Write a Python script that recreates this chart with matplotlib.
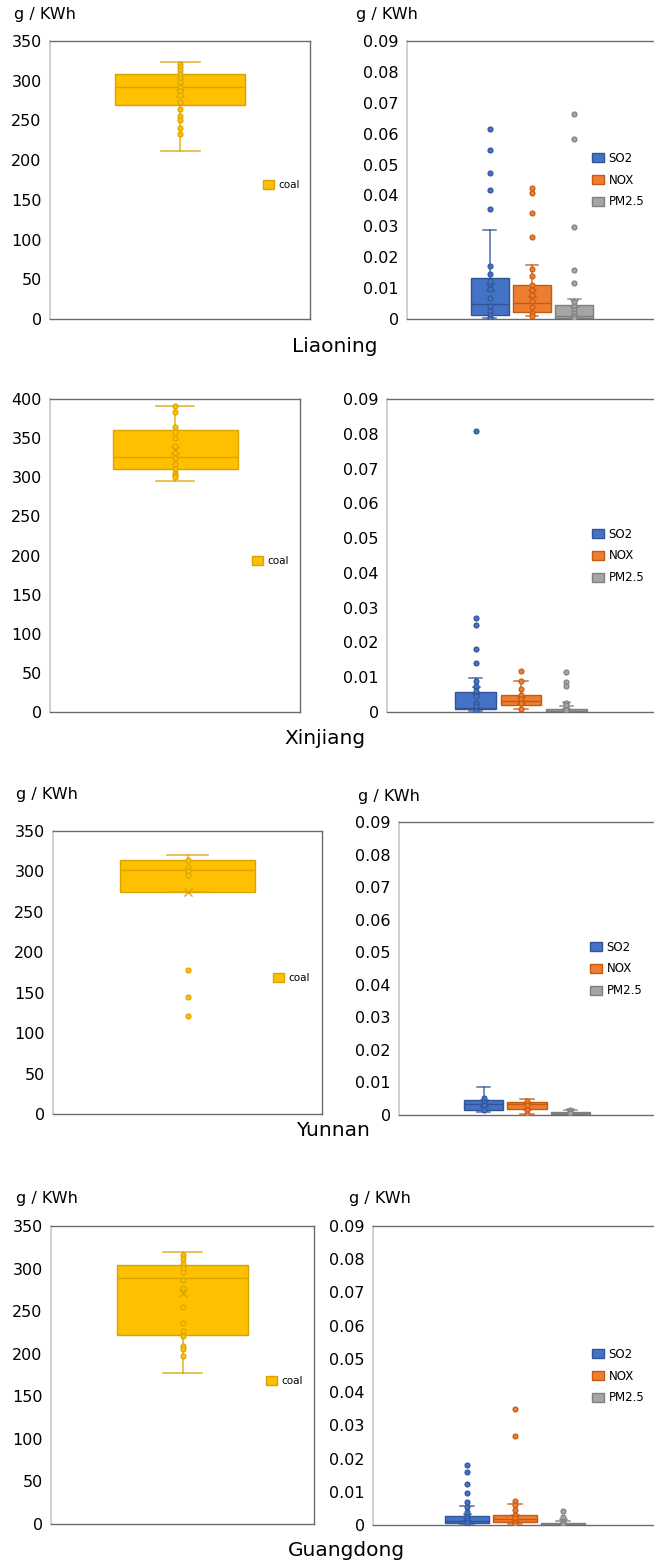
import numpy as np
import matplotlib.pyplot as plt
from matplotlib.patches import Patch

# Datos (g / KWh)
provincias = ['Liaoning', 'Xinjiang', 'Yunnan', 'Guangdong']
contaminantes = ['SO2', 'NOX', 'PM2.5']

# caja: [bigote inferior, Q1, mediana, Q3, bigote superior]
coal_box = {'Liaoning': [212, 269.5, 292, 309, 324],
            'Xinjiang': [295.5, 310, 326, 360, 391],
            'Yunnan': [275, 275, 301.5, 314, 320],
            'Guangdong': [177, 222, 289.5, 304, 319.5]}
coal_mean = {'Liaoning': 284, 'Xinjiang': 335, 'Yunnan': 274, 'Guangdong': 271}
coal_pts = {'Liaoning': [321, 317, 313, 309, 304, 299, 292, 287, 282, 273, 265, 256, 251, 240.5, 232.6],
            'Xinjiang': [391, 383, 364.6, 358, 350, 340, 330.5, 325, 317, 311, 306, 303, 300],
            'Yunnan': [313.8, 305.5, 300.5, 295, 177.5, 144.6, 121.4],
            'Guangdong': [316.4, 311.7, 305.9, 300.8, 296.5, 286, 277, 254.3, 236, 226.6, 221,
                          209.4, 205.5, 197.7]}
coal_ylim = {'Liaoning': 350, 'Xinjiang': 400, 'Yunnan': 350, 'Guangdong': 350}

so2_box = {'Liaoning': [0.0003, 0.0014, 0.0050, 0.0134, 0.0288],
           'Xinjiang': [0.0002, 0.0008, 0.0012, 0.0057, 0.0099],
           'Yunnan': [0.0010, 0.0015, 0.0034, 0.0046, 0.0087],
           'Guangdong': [0.0002, 0.0005, 0.0013, 0.0027, 0.0057]}
so2_mean = {'Liaoning': 0.0105, 'Xinjiang': 0.0063, 'Yunnan': 0.0036, 'Guangdong': 0.0025}
so2_pts = {'Liaoning': [0.0614, 0.0548, 0.0472, 0.0417, 0.0356, 0.0171, 0.0145, 0.0122,
                        0.0097, 0.0068, 0.0043, 0.0025, 0.0014, 0.0003],
           'Xinjiang': [0.0808, 0.0270, 0.0251, 0.0182, 0.0142, 0.0088, 0.0074, 0.0060,
                        0.0047, 0.0026, 0.0016, 0.0002],
           'Yunnan': [0.0053, 0.0040, 0.0030, 0.0015],
           'Guangdong': [0.0180, 0.0161, 0.0124, 0.0097, 0.0070, 0.0055, 0.0040, 0.0025,
                         0.0015, 0.0005]}

nox_box = {'Liaoning': [0.0011, 0.0022, 0.0052, 0.0109, 0.0174],
           'Xinjiang': [0.0010, 0.0019, 0.0033, 0.0048, 0.0088],
           'Yunnan': [0.0002, 0.0018, 0.0033, 0.0040, 0.0049],
           'Guangdong': [0.0003, 0.0008, 0.0017, 0.0030, 0.0062]}
nox_mean = {'Liaoning': 0.0084, 'Xinjiang': 0.0035, 'Yunnan': 0.0028, 'Guangdong': 0.0020}
nox_pts = {'Liaoning': [0.0423, 0.0407, 0.0342, 0.0265, 0.0162, 0.0139, 0.0109, 0.0095,
                        0.0077, 0.0058, 0.0039, 0.0020, 0.0011],
           'Xinjiang': [0.0117, 0.0088, 0.0067, 0.0050, 0.0036, 0.0026, 0.0010],
           'Yunnan': [0.0043, 0.0031, 0.0016, 0.0002],
           'Guangdong': [0.0349, 0.0268, 0.0072, 0.0060, 0.0045, 0.0030, 0.0020, 0.0010, 0.0003]}

pm25_box = {'Liaoning': [0.0001, 0.0003, 0.0009, 0.0044, 0.0066],
            'Xinjiang': [0.0000, 0.0002, 0.0004, 0.0010, 0.0018],
            'Yunnan': [0.0001, 0.0002, 0.0006, 0.0008, 0.0015],
            'Guangdong': [0.0001, 0.0002, 0.0004, 0.0007, 0.0013]}
pm25_mean = {'Liaoning': 0.0052, 'Xinjiang': 0.0020, 'Yunnan': 0.0010, 'Guangdong': 0.0010}
pm25_pts = {'Liaoning': [0.0664, 0.0582, 0.0297, 0.0158, 0.0116, 0.0056, 0.0042, 0.0030,
                         0.0019, 0.0009, 0.0003],
            'Xinjiang': [0.0114, 0.0085, 0.0074, 0.0026, 0.0020, 0.0005],
            'Yunnan': [0.0015, 0.0010, 0.0005],
            'Guangdong': [0.0043, 0.0025, 0.0010, 0.0004]}

# Colores estilo Excel: (relleno, borde)
col_coal = ('#FFC000', '#D9A300')
col_pol = {'SO2': ('#4472C4', '#2F5597'),
           'NOX': ('#ED7D31', '#C55A11'),
           'PM2.5': ('#A5A5A5', '#7F7F7F')}

W, H = 654, 1567
fig = plt.figure(figsize=(W / 100, H / 100), dpi=100)

# posiciones en píxeles: (izq, arriba, der, abajo)
ejes_coal = [(50, 41, 310, 319), (50, 399, 300, 712), (53, 831, 322, 1114), (51, 1226, 314, 1524)]
ejes_pol = [(407, 41, 657, 319), (387, 399, 655, 712), (399, 822, 655, 1115), (373, 1226, 657, 1525)]
leyenda_coal = [(263, 185), (252, 561), (273, 978), (266, 1381)]
leyenda_pol = [(592, 180), (592, 556), (590, 969), (592, 1376)]
titulos = [(335, 347), (325, 739), (333, 1130), (346, 1551)]
etiquetas_unidad = [((14, 15), (356, 15)), None, ((16, 795), (358, 796)), ((16, 1199), (349, 1199))]


def ejes_px(l, t, r, b):
    return fig.add_axes([l / W, 1 - b / H, (r - l) / W, (b - t) / H])


def estilo(ax):
    for s in ['top', 'right', 'bottom']:
        ax.spines[s].set_color('#6b6b6b')
        ax.spines[s].set_linewidth(1.0)
    ax.spines['left'].set_color('#c8c8c8')
    ax.spines['left'].set_linewidth(1.2)
    ax.tick_params(axis='y', length=0, pad=6, labelsize=11.5)
    ax.set_xticks([])


def caja(ax, pos, box, mean, pts, colores, ancho, zorder=2):
    fill, edge = colores
    stats = [dict(whislo=box[0], q1=box[1], med=box[2], q3=box[3], whishi=box[4],
                  mean=mean, fliers=[])]
    ax.bxp(stats, positions=[pos], widths=ancho, capwidths=0.3, showmeans=True,
           patch_artist=True, manage_ticks=False,
           boxprops=dict(facecolor=fill, edgecolor=edge, linewidth=1.0),
           medianprops=dict(color=edge, linewidth=1.0),
           whiskerprops=dict(color=edge, linewidth=1.1, alpha=0.85),
           capprops=dict(color=edge, linewidth=1.1, alpha=0.85),
           meanprops=dict(marker='x', markeredgecolor=edge, markersize=6, markeredgewidth=1.0))
    ax.plot(np.full(len(pts), pos), pts, 'o', markersize=3.6, markerfacecolor=fill,
            markeredgecolor=edge, markeredgewidth=0.8, zorder=zorder + 2)


for i, prov in enumerate(provincias):
    # carbón
    ax = ejes_px(*ejes_coal[i])
    caja(ax, 1, coal_box[prov], coal_mean[prov], coal_pts[prov], col_coal, 1.0)
    ax.set_xlim(0, 2)
    ax.set_ylim(0, coal_ylim[prov])
    ax.set_yticks(np.arange(0, coal_ylim[prov] + 1, 50))
    estilo(ax)
    lx, ly = leyenda_coal[i]
    ax.legend(handles=[Patch(facecolor=col_coal[0], edgecolor=col_coal[1], label='coal')],
              loc='center left', bbox_to_anchor=(lx / W, 1 - ly / H),
              bbox_transform=fig.transFigure, frameon=False, fontsize=7.5,
              handlelength=1.1, handleheight=0.9, handletextpad=0.4, borderpad=0,
              borderaxespad=0)

    # contaminantes
    ax2 = ejes_px(*ejes_pol[i])
    series = [(so2_box, so2_mean, so2_pts), (nox_box, nox_mean, nox_pts),
              (pm25_box, pm25_mean, pm25_pts)]
    for j, (b, m, p) in enumerate(series):
        caja(ax2, j + 1, b[prov], m[prov], p[prov], col_pol[contaminantes[j]], 0.9)
    ax2.set_xlim(-0.95, 4.95)
    ax2.set_ylim(0, 0.09)
    ax2.set_yticks(np.arange(0, 0.091, 0.01))
    ax2.set_yticklabels(['0'] + [f'{v:.2f}' for v in np.arange(0.01, 0.091, 0.01)])
    estilo(ax2)
    lx, ly = leyenda_pol[i]
    ax2.legend(handles=[Patch(facecolor=col_pol[c][0], edgecolor=col_pol[c][1], label=c)
                        for c in contaminantes],
               loc='center left', bbox_to_anchor=(lx / W, 1 - ly / H),
               bbox_transform=fig.transFigure, frameon=False, fontsize=8.5,
               handlelength=1.0, handleheight=0.8, handletextpad=0.4, labelspacing=0.75,
               borderpad=0, borderaxespad=0)

    tx, ty = titulos[i]
    fig.text(tx / W, 1 - ty / H, prov, ha='center', va='center', fontsize=14.5)
    if etiquetas_unidad[i]:
        for ux, uy in etiquetas_unidad[i]:
            fig.text(ux / W, 1 - uy / H, 'g / KWh', ha='left', va='center', fontsize=11.5)

fig.savefig('out.png', dpi=100)
